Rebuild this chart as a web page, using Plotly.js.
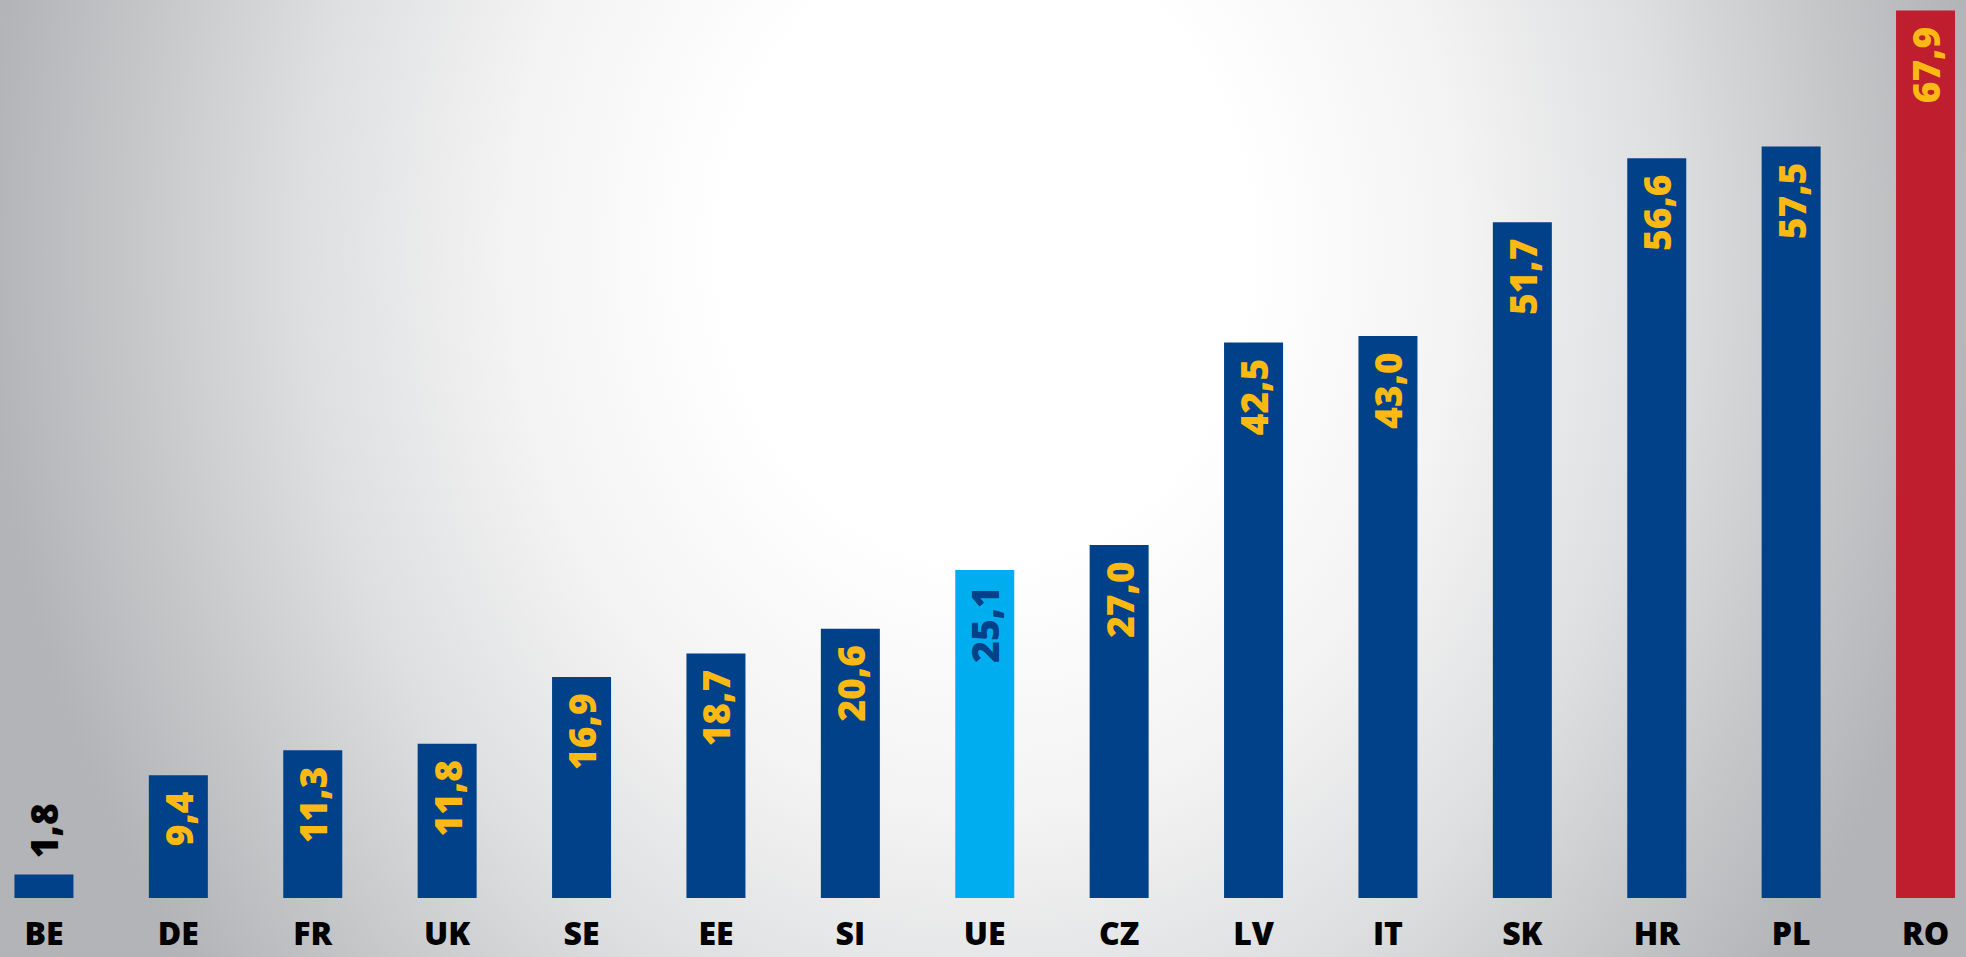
<!DOCTYPE html>
<html>
<head>
<meta charset="utf-8">
<script src="https://cdn.plot.ly/plotly-3.0.1.min.js"></script>
<style>
  html, body { margin: 0; padding: 0; }
  body {
    width: 1966px; height: 957px; overflow: hidden;
    background: radial-gradient(ellipse 1000px 1180px at 985px 250px,
      #ffffff 0%, #ffffff 26%, #f3f3f3 48%, #dedfe1 68%, #c4c6c8 86%, #b2b4b7 100%);
  }
  #chart { width: 1966px; height: 957px; }
</style>
</head>
<body>
<div id="chart"></div>
<script>
// Data
const categories = ['BE','DE','FR','UK','SE','EE','SI','UE','CZ','LV','IT','SK','HR','PL','RO'];
const values = [1.8, 9.4, 11.3, 11.8, 16.9, 18.7, 20.6, 25.1, 27.0, 42.5, 43.0, 51.7, 56.6, 57.5, 67.9];

// Styles
const DARK = '#00418a', LIGHT = '#00aeef', RED = '#be1e2d', YELLOW = '#fdb913';
const FONT = '"Open Sans", Lato, Roboto, sans-serif';
const barColors = categories.map(c => c === 'UE' ? LIGHT : (c === 'RO' ? RED : DARK));
const textColors = categories.map(c => c === 'BE' ? '#000000' : (c === 'UE' ? DARK : YELLOW));
const textPositions = categories.map(c => c === 'BE' ? 'outside' : 'inside');
const PAD = '\u00a0\u200a';
const templates = categories.map(c => c === 'BE' ? PAD + '%{y:.1f}' : '%{y:.1f}' + PAD);

const trace = {
  type: 'bar',
  x: categories,
  y: values,
  marker: { color: barColors, line: { width: 0 } },
  texttemplate: templates,
  textposition: textPositions,
  insidetextanchor: 'end',
  textangle: -90,
  constraintext: 'none',
  textfont: { family: FONT, size: 37, color: textColors, weight: 800 },
  cliponaxis: false,
  hoverinfo: 'none'
};

const layout = {
  width: 1966, height: 957,
  margin: { l: 0, r: 0, t: 0, b: 59 },
  paper_bgcolor: 'rgba(0,0,0,0)',
  plot_bgcolor: 'rgba(0,0,0,0)',
  separators: ',.',
  bargap: 0.561,
  showlegend: false,
  xaxis: {
    type: 'category',
    range: [-0.327, 14.301],
    showgrid: false, zeroline: false, showline: false,
    ticks: '', ticklen: 0,
    ticklabelstandoff: 14,
    tickfont: { family: FONT, size: 32, color: '#000000', weight: 800 },
    fixedrange: true
  },
  yaxis: {
    range: [0, 68.7],
    visible: false,
    showgrid: false, zeroline: false,
    fixedrange: true
  }
};

Plotly.newPlot('chart', [trace], layout, { displayModeBar: false, staticPlot: true });
</script>
</body>
</html>
